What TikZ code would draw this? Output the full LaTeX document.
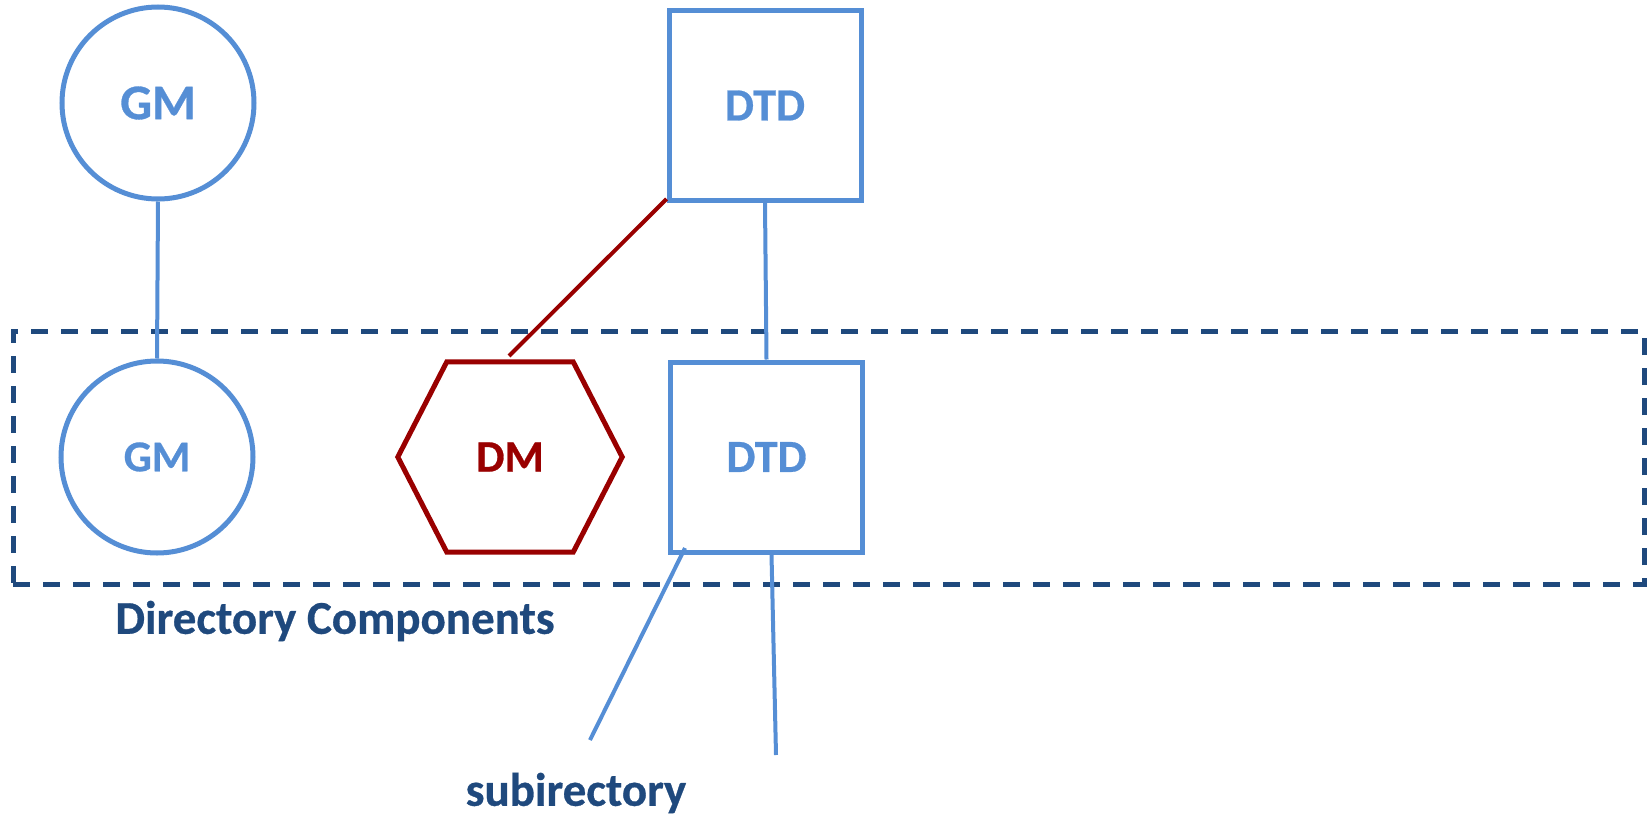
\documentclass[tikz,border=0pt]{standalone}
\usepackage{fontspec}
\setmainfont{Carlito}[BoldFeatures={FakeBold=0.6}]
\usetikzlibrary{calc}
\definecolor{lblue}{RGB}{85,142,213}
\definecolor{dred}{RGB}{153,0,0}
\definecolor{dblue}{RGB}{31,73,125}
\begin{document}
\begin{tikzpicture}[x=1pt,y=-1pt,
  gmcircle/.style={circle,draw=lblue,line width=5pt,minimum size=192pt,inner sep=0pt,text=lblue,font=\bfseries\fontsize{#1}{#1}\selectfont},
  dtdbox/.style={rectangle,draw=lblue,line width=5pt,minimum width=192pt,minimum height=190pt,inner sep=0pt,text=lblue,font=\bfseries\fontsize{46}{46}\selectfont},
  conn/.style={lblue,line width=4pt},
  redconn/.style={dred,line width=4pt},
  hexline/.style={dred,line width=5pt,line join=miter},
  dirbox/.style={rectangle,draw=dblue,line width=5pt,dash pattern=on 17pt off 13pt,inner sep=0pt},
  lbl/.style={text=dblue,font=\bfseries\fontsize{47}{47}\selectfont,inner sep=0pt}]
\useasboundingbox (0,0) rectangle (1652,819);

% dashed container
\node[dirbox,minimum width=1631pt,minimum height=253pt] (dir) at (828.5,457.5) {};
\node[lbl] (dirlbl) at (335,621) {Directory Components};

% GM nodes
\node[gmcircle=50] (gm1) at (158,103) {GM};
\node[gmcircle=44] (gm2) at (157,457) {GM};

% DTD nodes
\node[dtdbox] (dtd1) at (765,105.5) {DTD};
\node[dtdbox] (dtd2) at (766.5,457) {DTD};

% DM hexagon
\node[rectangle,minimum width=224pt,minimum height=190pt,inner sep=0pt,text=dred,font=\bfseries\fontsize{45}{45}\selectfont] (dm) at (510,457) {DM};
\draw[hexline] (dm.west) -- ($(dm.north west)+(49,0)$) -- ($(dm.north east)+(-49,0)$) -- (dm.east) -- ($(dm.south east)+(-49,0)$) -- ($(dm.south west)+(49,0)$) -- cycle;

% connectors
\draw[conn] (gm1.south) -- (gm2.north);
\draw[conn] (dtd1.south) -- (dtd2.north);
\coordinate (dmtop) at (509,356);
\draw[redconn] ($(dtd1.south west)+(0,-4)$) -- (dmtop);

\coordinate (sub1start) at (685,548);
\coordinate (sub1end) at (590,740);
\coordinate (sub2end) at (776,755);
\draw[conn] (sub1start) -- (sub1end);
\draw[conn] ($(dtd2.south)+(5,0)$) -- (sub2end);

\node[lbl] (sublbl) at (576,793) {subirectory};
\end{tikzpicture}
\end{document}
